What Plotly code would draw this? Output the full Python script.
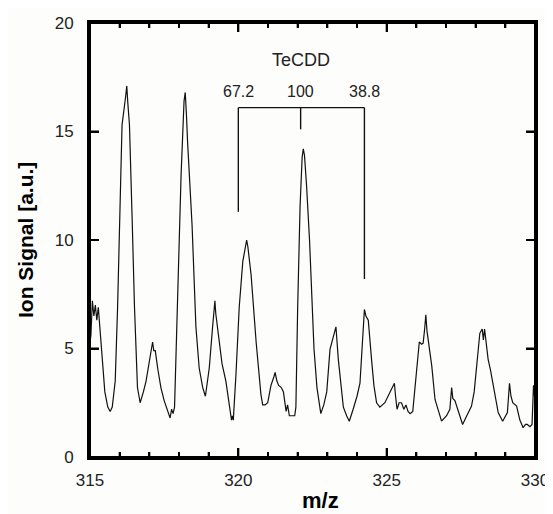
import plotly.graph_objects as go

# Spectrum trace (m/z, ion signal)
mz = [315.0, 315.03, 315.08, 315.13, 315.18, 315.23, 315.28, 315.4, 315.5, 315.6,
      315.68, 315.75, 315.85, 315.93, 315.99, 316.08, 316.2, 316.24, 316.27, 316.33,
      316.42, 316.5, 316.6, 316.69, 316.8, 316.89, 317.0, 317.08, 317.11, 317.15,
      317.2, 317.28, 317.39, 317.5, 317.6, 317.7, 317.75, 317.8, 317.85, 317.95,
      318.07, 318.17, 318.21, 318.25, 318.29, 318.44, 318.57, 318.68, 318.8, 318.89,
      319.02, 319.13, 319.21, 319.24, 319.3, 319.36, 319.45, 319.58, 319.7, 319.77,
      319.8, 319.83, 319.92, 320.03, 320.15, 320.25, 320.28, 320.32, 320.43, 320.6,
      320.76, 320.82, 320.9, 320.99, 321.1, 321.2, 321.24, 321.3, 321.36, 321.45,
      321.52, 321.58, 321.61, 321.66, 321.72, 321.9, 321.94, 322.0, 322.08, 322.15,
      322.19, 322.23, 322.3, 322.4, 322.47, 322.55, 322.65, 322.72, 322.78, 322.88,
      322.98, 323.09, 323.15, 323.2, 323.29, 323.37, 323.45, 323.54, 323.65, 323.74,
      323.87, 324.0, 324.1, 324.21, 324.25, 324.3, 324.38, 324.49, 324.57, 324.66,
      324.77, 324.94, 325.11, 325.26, 325.3, 325.35, 325.42, 325.5, 325.58, 325.65,
      325.72, 325.79, 325.88, 325.99, 326.1, 326.18, 326.23, 326.28, 326.32, 326.36,
      326.4, 326.52, 326.63, 326.74, 326.85, 327.02, 327.13, 327.19, 327.23, 327.3,
      327.36, 327.46, 327.56, 327.7, 327.86, 327.95, 328.03, 328.14, 328.22, 328.26,
      328.3, 328.42, 328.5, 328.59, 328.68, 328.76, 328.91, 329.07, 329.14, 329.19,
      329.25, 329.38, 329.49, 329.6, 329.68, 329.74, 329.83, 329.9, 329.95, 330.0]
signal = [5.3, 5.6, 7.2, 6.5, 7.0, 6.3, 6.9, 4.6, 3.0, 2.3,
          2.1, 2.3, 3.5, 6.9, 10.6, 15.3, 16.6, 17.1, 16.4, 15.3,
          11.0, 6.9, 3.2, 2.5, 3.0, 3.5, 4.4, 5.2, 5.3, 4.9,
          4.9, 4.1, 3.2, 2.6, 2.2, 1.8, 2.2, 2.0, 2.3, 6.9,
          13.0, 16.4, 16.8, 15.8, 14.5, 10.7, 6.0, 4.1, 3.2, 2.8,
          4.1, 5.95, 7.2, 6.6, 5.95, 5.3, 4.3, 3.5, 2.3, 1.7,
          1.9, 1.7, 3.8, 6.9, 9.0, 9.9, 10.0, 9.7, 8.4, 5.3,
          2.9, 2.4, 2.4, 2.5, 3.3, 3.7, 3.9, 3.5, 3.3, 3.2,
          3.0, 2.4, 2.1, 2.4, 1.9, 1.9, 2.3, 6.9, 11.5, 13.8,
          14.2, 13.9, 12.5, 10.0, 7.5, 5.0, 3.2, 2.4, 2.0, 2.4,
          3.0, 4.96, 5.3, 5.5, 6.0, 4.5, 3.4, 2.3, 1.9, 1.65,
          2.2, 2.8, 3.4, 5.9, 6.8, 6.5, 6.3, 4.5, 3.3, 2.5,
          2.3, 2.5, 3.0, 3.4, 2.8, 2.2, 2.5, 2.5, 2.2, 2.4,
          2.1, 2.0, 2.1, 3.7, 5.3, 5.2, 5.25, 5.9, 6.55, 5.8,
          5.4, 4.2, 2.65, 2.2, 1.65, 1.9, 2.2, 3.2, 2.7, 2.6,
          2.35, 1.9, 1.5, 1.9, 2.35, 3.0, 4.2, 5.7, 5.9, 5.4,
          5.9, 4.5, 4.0, 3.3, 2.6, 2.05, 1.65, 2.05, 3.4, 2.8,
          2.5, 2.35, 1.7, 1.35, 1.5, 1.5, 1.4, 1.5, 3.3, 2.6]

# Isotope pattern bracket for TeCDD
bracket_mz = [320.0, 322.1, 324.25]
bracket_top = 16.1
bracket_bottom = [11.3, 15.1, 8.2]
bracket_labels = ["67.2", "100", "38.8"]
bracket_label_y = 16.85
group_label = "TeCDD"
group_label_y = 18.3

# axes
x_range = [315, 330]
x_major_ticks = [315, 320, 325, 330]
x_minor_ticks = [316, 317, 318, 319, 321, 322, 323, 324, 326, 327, 328, 329]
y_range = [0, 20]
y_major_ticks = [0, 5, 10, 15, 20]

INK = "#111111"
FONT = "Liberation Sans, Arial"

# figure geometry (page body adds an 8px offset)
W, H = 545, 506
ML, MR, MT, MB = 82, 18, 15, 57
MAJOR_LEN, MINOR_LEN = 9, 5
px_per_x = (W - ML - MR) / (x_range[1] - x_range[0])
px_per_y = (H - MT - MB) / (y_range[1] - y_range[0])

fig = go.Figure()

fig.add_trace(go.Scatter(x=mz, y=signal, mode="lines",
                         line=dict(color=INK, width=1.2), showlegend=False))

# bracket: horizontal bar + three drops (one trace with gaps)
bx_line = [bracket_mz[0], bracket_mz[-1], None]
by_line = [bracket_top, bracket_top, None]
for bx, bb in zip(bracket_mz, bracket_bottom):
    bx_line += [bx, bx, None]
    by_line += [bracket_top, bb, None]
fig.add_trace(go.Scatter(x=bx_line, y=by_line, mode="lines",
                         line=dict(color=INK, width=1.4), showlegend=False))

# inside tick marks on all four sides (built from the tick lists)
tx, ty = [], []
for ticks, ln in ((x_major_ticks, MAJOR_LEN), (x_minor_ticks, MINOR_LEN)):
    dy = ln / px_per_y
    for t in ticks:
        tx += [t, t, None, t, t, None]
        ty += [y_range[0], y_range[0] + dy, None, y_range[1], y_range[1] - dy, None]
dx = MAJOR_LEN / px_per_x
for t in y_major_ticks:
    tx += [x_range[0], x_range[0] + dx, None, x_range[1], x_range[1] - dx, None]
    ty += [t, t, None, t, t, None]
fig.add_trace(go.Scatter(x=tx, y=ty, mode="lines", line=dict(color="black", width=2),
                         showlegend=False, hoverinfo="skip"))

# bracket labels as data-anchored annotations
for bx, lab in zip(bracket_mz, bracket_labels):
    fig.add_annotation(x=bx, y=bracket_label_y, xref="x", yref="y", text=lab,
                       showarrow=False, font=dict(family=FONT, size=16, color="#222"))
fig.add_annotation(x=bracket_mz[1], y=group_label_y, xref="x", yref="y", text=group_label,
                   showarrow=False, font=dict(family=FONT, size=18, color="#222"))

fig.update_xaxes(range=x_range, tick0=x_range[0], dtick=5,
                 showline=True, linewidth=3, linecolor="black", mirror="allticks",
                 ticks="inside", ticklen=MAJOR_LEN, tickwidth=2, tickcolor="black",
                 showgrid=False, zeroline=False, ticklabelstandoff=6,
                 tickfont=dict(family=FONT, size=17, color="#222"),
                 minor=dict(dtick=1, ticks="inside", ticklen=MINOR_LEN, tickwidth=2,
                            tickcolor="black"))
fig.update_yaxes(range=y_range, tick0=y_range[0], dtick=5,
                 showline=True, linewidth=3, linecolor="black", mirror="allticks",
                 ticks="inside", ticklen=MAJOR_LEN, tickwidth=2, tickcolor="black",
                 showgrid=False, zeroline=False, ticklabelstandoff=10,
                 tickfont=dict(family=FONT, size=17, color="#222"))

# plot frame
fig.add_shape(type="rect", xref="paper", yref="paper", x0=0, x1=1, y0=0, y1=1,
              line=dict(color="black", width=2), layer="above")

fig.add_annotation(text="<b>m/z</b>", xref="paper", yref="paper", x=0.517, y=-0.1,
                   showarrow=False, yanchor="middle",
                   font=dict(family=FONT, size=22, color="black"))
fig.add_annotation(text="<b>Ion Signal [a.u.]</b>", xref="paper", yref="paper",
                   x=-0.146, y=0.5, textangle=-90, showarrow=False, xanchor="center",
                   font=dict(family=FONT, size=21, color="black"))

fig.update_layout(width=W, height=H, margin=dict(l=ML, r=MR, t=MT, b=MB, autoexpand=False),
                  paper_bgcolor="#fdfdfb", plot_bgcolor="#fdfdfb", showlegend=False)

fig.write_html("out.html")
